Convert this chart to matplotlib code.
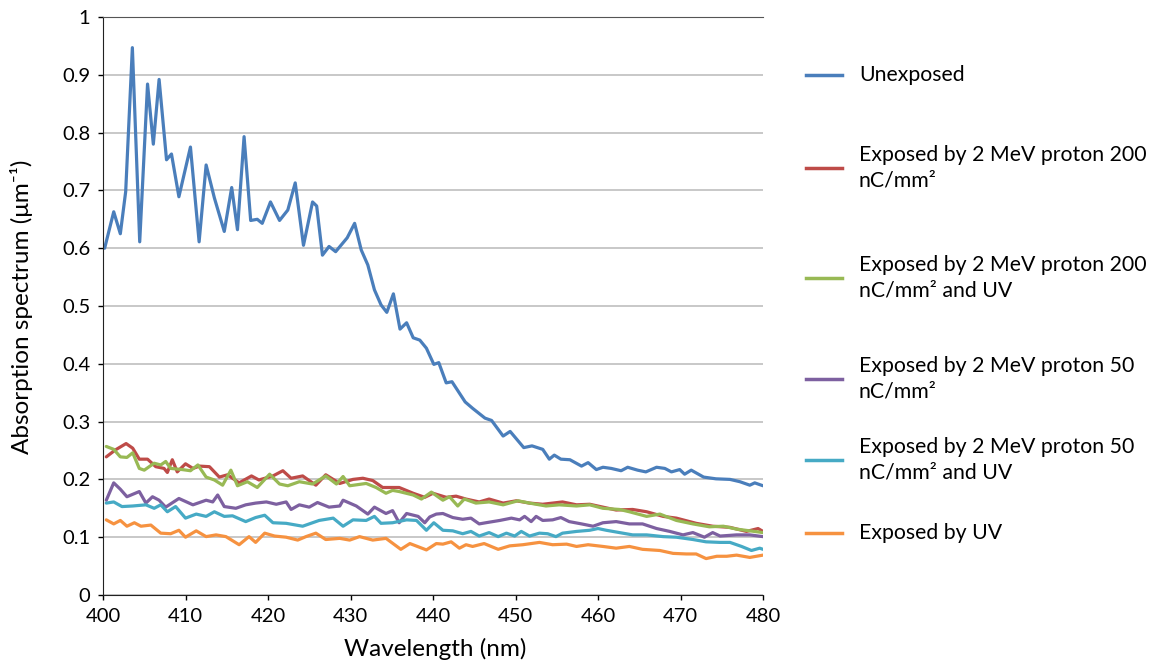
import matplotlib
matplotlib.use("Agg")
import matplotlib.pyplot as plt
from matplotlib.lines import Line2D

plt.rcParams['font.family'] = ['Lato', 'DejaVu Sans']

# wavelength (nm), absorption (um^-1)
unexposed_wl = [400.2, 401.3, 402.1, 402.75, 403.56, 404.45, 405.4, 406.1, 406.8, 407.7,
                408.3, 409.2, 410.6, 411.65, 412.5, 413.5, 414.7, 415.6, 416.3, 417.1,
                417.9, 418.7, 419.3, 420.3, 421.4, 422.4, 423.3, 424.3, 425.4, 425.9,
                426.6, 427.4, 428.2, 429.6, 430.5, 431.3, 432.1, 432.9, 433.7, 434.4,
                435.2, 436.0, 436.8, 437.6, 438.4, 439.2, 440.1, 440.7, 441.6, 442.3,
                443.9, 444.8, 446.3, 447.1, 448.5, 449.35, 451.0, 452.0, 453.3, 454.1,
                454.7, 455.5, 456.6, 458.0, 458.8, 459.8, 460.6, 461.6, 462.8, 463.6,
                464.8, 465.8, 467.1, 468.1, 468.9, 469.9, 470.5, 471.3, 472.8, 474.3,
                476.0, 477.2, 478.4, 479.0, 480.0]
unexposed = [0.600, 0.663, 0.625, 0.698, 0.947, 0.611, 0.884, 0.780, 0.892, 0.753,
             0.763, 0.689, 0.775, 0.611, 0.744, 0.687, 0.629, 0.705, 0.632, 0.793,
             0.648, 0.650, 0.643, 0.680, 0.648, 0.666, 0.713, 0.605, 0.680, 0.673,
             0.588, 0.603, 0.594, 0.618, 0.643, 0.597, 0.571, 0.528, 0.502, 0.489,
             0.521, 0.460, 0.471, 0.445, 0.441, 0.427, 0.399, 0.402, 0.367, 0.369,
             0.334, 0.323, 0.306, 0.302, 0.275, 0.283, 0.255, 0.258, 0.252, 0.235,
             0.242, 0.235, 0.234, 0.223, 0.229, 0.217, 0.221, 0.219, 0.215, 0.221,
             0.216, 0.213, 0.221, 0.219, 0.213, 0.217, 0.209, 0.216, 0.204, 0.201,
             0.200, 0.196, 0.190, 0.194, 0.189]

p200 = [(400.4, 0.239), (401.5, 0.251), (402.8, 0.262), (403.6, 0.254), (404.4, 0.235),
        (405.4, 0.235), (406.4, 0.222), (407.4, 0.219), (407.8, 0.212), (408.4, 0.234),
        (409.0, 0.213), (410.0, 0.227), (410.9, 0.219), (411.7, 0.223), (412.9, 0.222),
        (414.1, 0.204), (415.1, 0.208), (416.5, 0.194), (418.0, 0.206), (418.9, 0.199),
        (420.6, 0.206), (421.8, 0.215), (422.8, 0.202), (424.2, 0.206), (425.8, 0.190),
        (427.0, 0.208), (428.7, 0.193), (430.3, 0.200), (431.5, 0.202), (432.7, 0.198),
        (433.9, 0.186), (435.9, 0.186), (437.6, 0.176), (439.0, 0.169), (440.0, 0.176),
        (441.6, 0.169), (442.8, 0.171), (444.0, 0.166), (445.6, 0.161), (446.8, 0.166),
        (448.5, 0.159), (450.1, 0.163), (451.7, 0.159), (453.3, 0.157), (455.7, 0.161),
        (457.4, 0.156), (459.0, 0.157), (460.6, 0.152), (462.2, 0.147), (464.2, 0.148),
        (465.9, 0.144), (467.9, 0.136), (469.5, 0.133), (471.9, 0.124), (473.9, 0.119),
        (476.0, 0.117), (478.0, 0.110), (479.4, 0.115), (480.0, 0.110)]

p200_uv = [(400.4, 0.257), (401.3, 0.252), (402.1, 0.239), (402.9, 0.238), (403.6, 0.246),
           (404.4, 0.219), (405.0, 0.216), (406.2, 0.228), (407.0, 0.225), (407.6, 0.231),
           (408.2, 0.219), (409.6, 0.217), (410.6, 0.215), (411.5, 0.225), (412.5, 0.204),
           (413.5, 0.199), (414.5, 0.190), (415.5, 0.216), (416.3, 0.189), (417.5, 0.196),
           (418.7, 0.186), (420.2, 0.209), (421.4, 0.192), (422.4, 0.189), (423.8, 0.196),
           (425.4, 0.192), (427.0, 0.206), (428.3, 0.192), (429.1, 0.205), (429.9, 0.189),
           (431.9, 0.193), (433.1, 0.186), (434.3, 0.176), (435.1, 0.181), (435.9, 0.179),
           (437.6, 0.173), (438.6, 0.166), (439.8, 0.178), (441.2, 0.164), (442.0, 0.170),
           (443.0, 0.154), (443.8, 0.166), (445.2, 0.159), (446.8, 0.161), (448.5, 0.156),
           (450.3, 0.163), (451.7, 0.159), (453.7, 0.154), (455.3, 0.156), (457.4, 0.154),
           (459.0, 0.156), (460.6, 0.150), (462.6, 0.148), (463.8, 0.144), (465.9, 0.136),
           (467.5, 0.140), (469.5, 0.129), (471.5, 0.123), (473.5, 0.118), (475.2, 0.119),
           (476.8, 0.114), (478.4, 0.111), (480.0, 0.108)]

p50 = [(400.4, 0.164), (401.3, 0.194), (402.1, 0.183), (402.9, 0.170), (404.4, 0.179),
       (405.2, 0.159), (406.0, 0.170), (406.8, 0.164), (407.6, 0.152), (409.2, 0.167),
       (410.9, 0.156), (412.5, 0.164), (413.3, 0.161), (413.9, 0.173), (414.7, 0.153),
       (416.1, 0.150), (417.3, 0.156), (418.5, 0.159), (419.8, 0.161), (421.0, 0.157),
       (422.2, 0.161), (422.8, 0.148), (423.8, 0.156), (425.0, 0.152), (426.0, 0.160),
       (427.4, 0.152), (428.7, 0.154), (429.1, 0.164), (430.7, 0.154), (432.1, 0.140),
       (432.9, 0.152), (434.3, 0.141), (435.1, 0.146), (435.9, 0.125), (436.8, 0.141),
       (438.2, 0.136), (439.0, 0.125), (439.6, 0.135), (440.4, 0.140), (441.2, 0.141),
       (442.4, 0.134), (443.6, 0.131), (444.6, 0.133), (445.6, 0.123), (446.4, 0.125),
       (448.1, 0.129), (449.5, 0.133), (450.5, 0.130), (451.1, 0.136), (451.9, 0.127),
       (452.5, 0.136), (453.3, 0.129), (454.5, 0.130), (455.5, 0.134), (456.5, 0.127),
       (458.0, 0.123), (459.4, 0.119), (460.6, 0.125), (462.2, 0.127), (463.8, 0.123),
       (465.4, 0.123), (467.1, 0.115), (468.7, 0.110), (470.3, 0.104), (471.5, 0.108),
       (472.9, 0.100), (473.9, 0.108), (474.8, 0.102), (476.8, 0.104), (478.4, 0.104),
       (480.0, 0.101)]

p50_uv = [(400.4, 0.159), (401.3, 0.161), (402.3, 0.153), (403.6, 0.154), (405.2, 0.156),
          (406.2, 0.150), (407.0, 0.156), (407.8, 0.144), (408.8, 0.153), (410.0, 0.133),
          (411.3, 0.140), (412.5, 0.136), (413.5, 0.144), (414.7, 0.136), (415.7, 0.137),
          (417.3, 0.127), (418.5, 0.134), (419.6, 0.138), (420.6, 0.125), (422.2, 0.124),
          (424.2, 0.119), (426.2, 0.129), (427.9, 0.133), (429.1, 0.119), (430.3, 0.130),
          (431.9, 0.129), (432.9, 0.136), (433.7, 0.124), (435.1, 0.125), (436.8, 0.130),
          (438.0, 0.129), (439.2, 0.112), (440.1, 0.125), (441.2, 0.112), (442.4, 0.111),
          (443.6, 0.106), (444.6, 0.110), (445.6, 0.102), (446.8, 0.108), (447.9, 0.101),
          (448.9, 0.107), (449.9, 0.102), (450.7, 0.110), (451.7, 0.102), (452.9, 0.107),
          (453.9, 0.106), (454.9, 0.101), (455.7, 0.107), (457.4, 0.110), (459.0, 0.112),
          (460.0, 0.115), (461.0, 0.112), (462.6, 0.108), (464.2, 0.104), (465.9, 0.104),
          (467.9, 0.101), (469.5, 0.100), (471.5, 0.096), (473.1, 0.092), (474.8, 0.091),
          (476.0, 0.091), (477.4, 0.084), (478.6, 0.077), (479.6, 0.081), (480.0, 0.079)]

uv_only = [(400.4, 0.130), (401.3, 0.123), (402.1, 0.129), (402.9, 0.119), (403.8, 0.125),
           (404.6, 0.119), (405.8, 0.121), (407.0, 0.107), (408.2, 0.106), (409.2, 0.112),
           (410.0, 0.100), (411.3, 0.111), (412.5, 0.101), (413.7, 0.104), (414.9, 0.101),
           (416.5, 0.087), (417.7, 0.101), (418.5, 0.091), (419.6, 0.107), (420.8, 0.102),
           (422.2, 0.100), (423.6, 0.095), (424.6, 0.101), (425.8, 0.107), (427.0, 0.096),
           (428.7, 0.098), (429.9, 0.095), (431.1, 0.101), (432.7, 0.095), (434.3, 0.098),
           (436.1, 0.079), (437.2, 0.089), (439.2, 0.078), (440.4, 0.089), (441.2, 0.088),
           (442.2, 0.092), (443.2, 0.081), (444.0, 0.087), (444.8, 0.084), (446.2, 0.089),
           (447.9, 0.079), (449.3, 0.085), (450.9, 0.087), (452.9, 0.091), (454.5, 0.087),
           (456.2, 0.088), (457.4, 0.084), (458.8, 0.087), (460.6, 0.084), (462.2, 0.081),
           (463.8, 0.084), (465.4, 0.079), (467.5, 0.077), (469.1, 0.072), (470.7, 0.071),
           (471.9, 0.071), (473.1, 0.063), (474.4, 0.067), (475.6, 0.067), (476.8, 0.069),
           (478.4, 0.065), (480.0, 0.069)]

labels = ["Unexposed",
          "Exposed by 2 MeV proton 200\nnC/mm\u00b2",
          "Exposed by 2 MeV proton 200\nnC/mm\u00b2 and UV",
          "Exposed by 2 MeV proton 50\nnC/mm\u00b2",
          "Exposed by 2 MeV proton 50\nnC/mm\u00b2 and UV",
          "Exposed by UV"]
colors = ['#4a7ebb', '#be4b48', '#98b954', '#7d60a0', '#46aac5', '#f69240']

series = [(unexposed_wl, unexposed)]
for s in [p200, p200_uv, p50, p50_uv, uv_only]:
    series.append(([p[0] for p in s], [p[1] for p in s]))

W, H = 1153, 664
fig = plt.figure(figsize=(W / 100, H / 100), dpi=100)
ax = fig.add_axes([103 / W, 1 - 595 / H, (763 - 103) / W, (595 - 17) / H])

for (x, y), c in zip(series, colors):
    ax.plot(x, y, color=c, lw=2.3, solid_joinstyle='round', solid_capstyle='round')

ax.set_xlim(400, 480)
ax.set_ylim(0, 1)
ax.set_xticks(range(400, 481, 10))
ax.set_yticks([i / 10 for i in range(11)])
ax.set_yticklabels(['0'] + ['%.1f' % (i / 10) for i in range(1, 10)] + ['1'])
ax.tick_params(axis='y', labelsize=14.5, direction='out', length=3.6, width=1, pad=5.5)
ax.tick_params(axis='x', labelsize=14.5, direction='out', length=3.6, width=1, pad=6)

ax.grid(axis='y', color='#bfbfbf', lw=1.2)
ax.set_axisbelow(True)
ax.spines['right'].set_visible(False)
ax.spines['top'].set_color('#555555')
ax.spines['left'].set_color('#222222')
ax.spines['bottom'].set_color('#222222')

ax.set_xlabel("Wavelength (nm)", fontsize=17.5)
ax.xaxis.set_label_coords(0.504, -0.074)
ax.set_ylabel("Absorption spectrum (\u03bcm\u207b\u00b9)", fontsize=17.5)
ax.yaxis.set_label_coords(-0.106, 0.498)

# legend drawn by hand to keep the uneven spacing of the original
legend_y = [75, 168, 278, 379, 460, 533]
for yy, c, lab in zip(legend_y, colors, labels):
    fig.add_artist(Line2D([806 / W, 842 / W], [1 - yy / H, 1 - yy / H],
                          transform=fig.transFigure, color=c, lw=2.5))
    fig.text(859 / W, 1 - yy / H, lab, fontsize=15.3, va='center', ha='left',
             linespacing=1.35)

fig.savefig("out.png", dpi=100)
